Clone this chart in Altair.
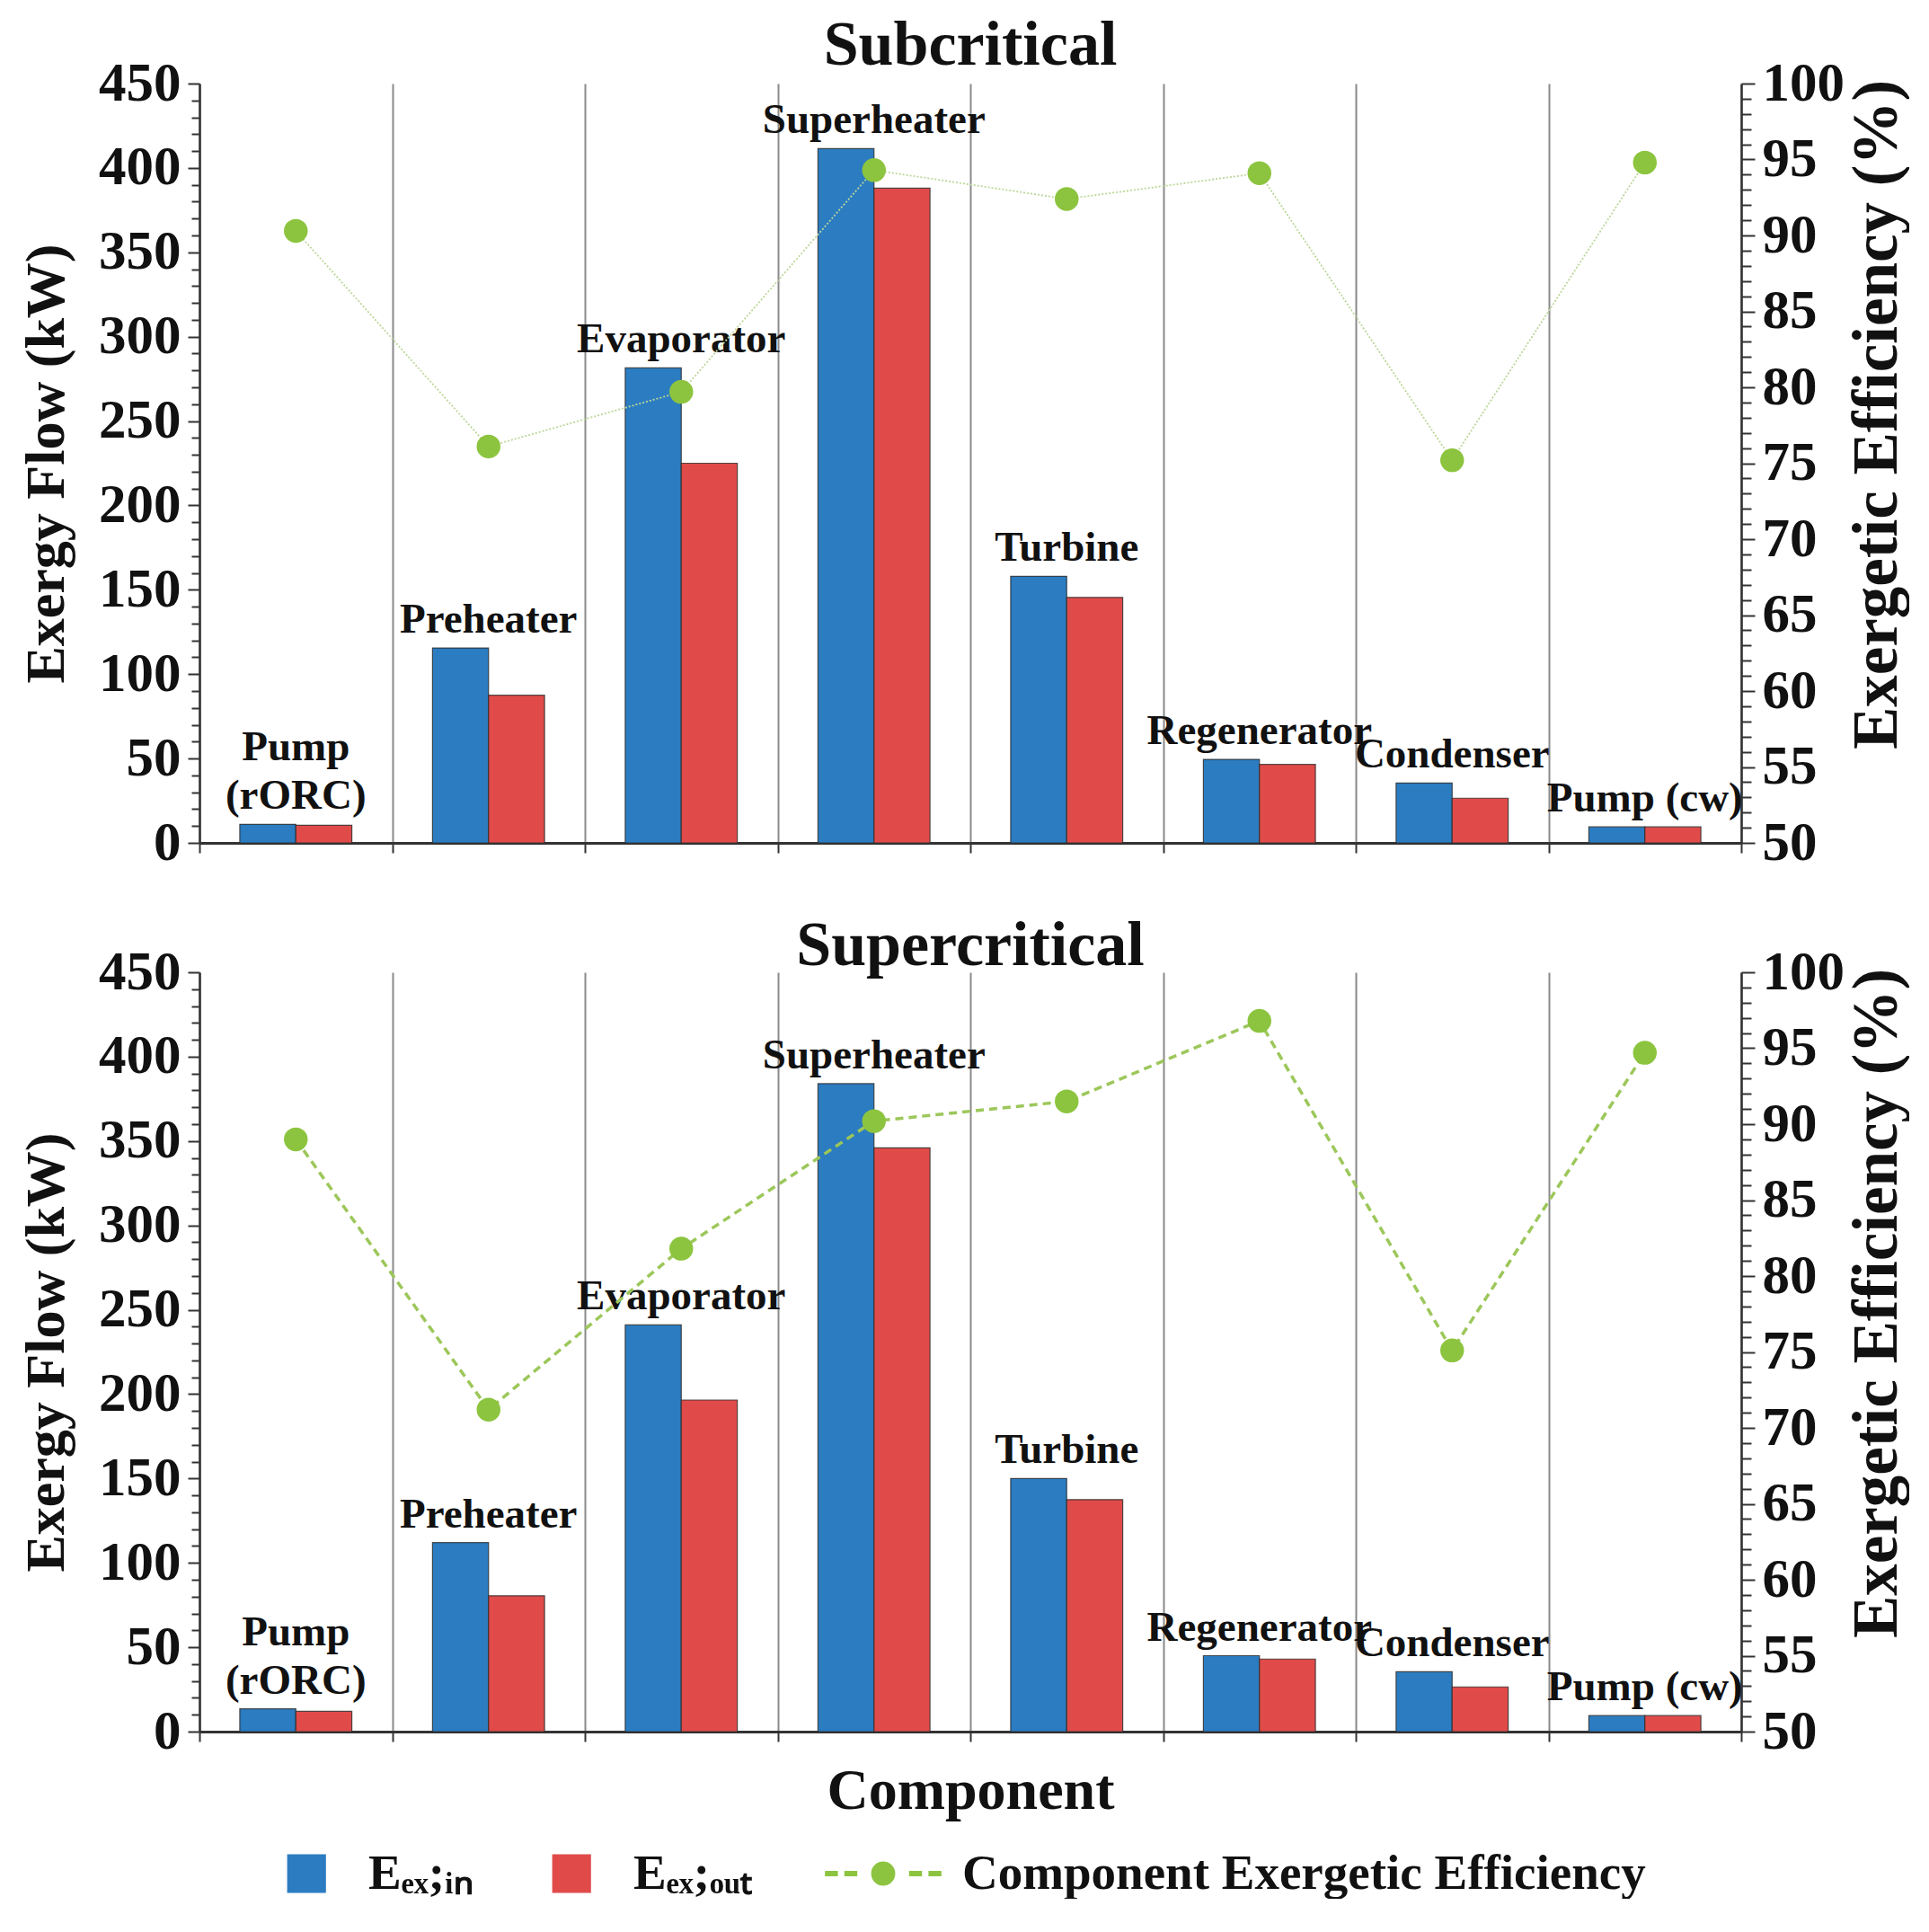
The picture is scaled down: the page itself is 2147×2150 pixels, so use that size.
"""Exergy flow per component, subcritical vs supercritical (bars + efficiency line)."""

import altair as alt
import pandas as pd

COMPONENTS = [
    "Pump (rORC)", "Preheater", "Evaporator", "Superheater",
    "Turbine", "Regenerator", "Condenser", "Pump (cw)",
]
# two-line labels: upper line (mostly empty) and the line sitting on the bars
LABEL_UPPER = ["Pump", "", "", "", "", "", "", ""]
LABEL_LOWER = [
    "(rORC)", "Preheater", "Evaporator", "Superheater",
    "Turbine", "Regenerator", "Condenser", "Pump (cw)",
]

# subcritical
SUB_EX_IN = [11, 115.5, 281.5, 411.5, 158, 49.5, 35.5, 9.5]
SUB_EX_OUT = [10.5, 87.5, 225, 388, 145.5, 46.5, 26.5, 9.5]
SUB_EFF = [90.3, 76.1, 79.7, 94.3, 92.4, 94.1, 75.2, 94.8]

# supercritical
SUP_EX_IN = [13.5, 112, 241, 384, 150, 45, 35.5, 9.5]
SUP_EX_OUT = [12, 80.5, 196.5, 346, 137.5, 43, 26.5, 9.5]
SUP_EFF = [89.0, 71.2, 81.8, 90.2, 91.5, 96.8, 75.1, 94.7]

# en/thin space closed by a zero-width char (so it is not trimmed) widens that legend entry
SERIES = [
    "E\u2091\u2093;\u1d62\u2099",
    "E\u2091\u2093;\u2092\u1d64\u209c\u2002\u2009\u200b",
    "Component Exergetic Efficiency",
]
COLORS = ["#2B7CC1", "#E04B4A", "#8CC43F"]

Y_LEFT_TICKS = list(range(0, 451, 10))
Y_RIGHT_TICKS = list(range(50, 101, 1))

FONT = "Liberation Serif"
GREEN = "#8CC43F"

# legend symbols: squares set towards the label, dashed line with a dot for efficiency
SQUARE = "M-0.05,-0.45H0.85V0.45H-0.05Z"
LINE_DOT = (
    "M-1.35,-0.06H-1.05V0.06H-1.35Z M-0.9,-0.06H-0.6V0.06H-0.9Z "
    "M0.6,-0.06H0.9V0.06H0.6Z M1.05,-0.06H1.35V0.06H1.05Z "
    "M0.28,0A0.28,0.28 0 1,1 -0.28,0A0.28,0.28 0 1,1 0.28,0Z"
)

LEGEND = alt.Legend(
    orient="none",
    legendX=52,
    legendY=1944,
    direction="horizontal",
    columns=3,
    title=None,
    labelFont=FONT,
    labelFontWeight="bold",
    labelFontSize=55,
    labelColor="#111",
    labelLimit=1000,
    labelOffset=40,
    columnPadding=42,
    symbolSize=9216,
    symbolStrokeWidth=0,
    padding=0,
)

color_scale = alt.Scale(domain=SERIES, range=COLORS)
shape_scale = alt.Scale(domain=SERIES, range=[SQUARE, SQUARE, LINE_DOT])


def make_panel(ex_in, ex_out, eff, title, title_offset, x_title, dashed, with_legend):
    df_bars = pd.DataFrame({
        "component": COMPONENTS * 2,
        "series": [SERIES[0]] * len(COMPONENTS) + [SERIES[1]] * len(COMPONENTS),
        "value": ex_in + ex_out,
    })
    df_labels = pd.DataFrame({
        "component": COMPONENTS,
        "upper": LABEL_UPPER,
        "lower": LABEL_LOWER,
        "value": [max(a, b) for a, b in zip(ex_in, ex_out)],
    })
    df_eff = pd.DataFrame({"component": COMPONENTS, "eff": eff})

    x_enc = alt.X(
        "component:N",
        sort=COMPONENTS,
        scale=alt.Scale(paddingInner=0, paddingOuter=0),
        axis=alt.Axis(
            labels=False,
            title=x_title,
            titlePadding=22,
            titleFontSize=64,
            tickBand="extent",
            tickSize=11,
            grid=True,
            gridColor="#8a8a8a",
            gridWidth=2,
            domainWidth=3,
        ),
    )
    y_left = alt.Y(
        "value:Q",
        scale=alt.Scale(domain=[0, 450], nice=False),
        axis=alt.Axis(
            orient="left",
            title="Exergy Flow (kW)",
            values=Y_LEFT_TICKS,
            labelExpr="datum.value % 50 === 0 ? datum.label : ''",
            tickSize={"condition": {"test": "datum.value % 50 === 0", "value": 13}, "value": 9},
            labelOverlap=False,
            labelPadding=8,
            titlePadding=26,
            grid=False,
        ),
    )
    y_right = alt.Y(
        "eff:Q",
        scale=alt.Scale(domain=[50, 100], nice=False),
        axis=alt.Axis(
            orient="right",
            title="Exergetic Efficiency (%)",
            titleAngle=270,
            titleBaseline="top",
            titleFontSize=71,
            titleY=368,
            values=Y_RIGHT_TICKS,
            labelExpr="datum.value % 5 === 0 ? datum.label : ''",
            tickSize={"condition": {"test": "datum.value % 5 === 0", "value": 15}, "value": 11},
            labelOverlap=False,
            labelPadding=8,
            titlePadding=2,
            grid=False,
        ),
    )

    bars = alt.Chart(df_bars).mark_bar(stroke="#2a2a2a", strokeWidth=1.2, strokeOpacity=0.8).encode(
        x=x_enc,
        xOffset=alt.XOffset("series:N", sort=SERIES[:2], scale=alt.Scale(paddingInner=0, paddingOuter=0.72)),
        y=y_left,
        color=alt.Color("series:N", scale=color_scale, legend=LEGEND),
    )
    text_style = dict(font=FONT, fontSize=47, fontWeight="bold", baseline="alphabetic", color="#111")
    labels_lower = alt.Chart(df_labels).mark_text(dy=-17, **text_style).encode(
        x=x_enc, y=y_left, text="lower:N"
    )
    labels_upper = alt.Chart(df_labels).mark_text(dy=-71, **text_style).encode(
        x=x_enc, y=y_left, text="upper:N"
    )

    if dashed:
        line = alt.Chart(df_eff).mark_line(color="#9CC75A", strokeWidth=3.5, strokeDash=[9, 6])
    else:
        line = alt.Chart(df_eff).mark_line(color="#BCD79A", strokeWidth=1.8, strokeDash=[2, 2])
    line = line.encode(x=x_enc, y=y_right)
    points = alt.Chart(df_eff).mark_point(filled=True, size=700, color=GREEN, opacity=1).encode(
        x=x_enc, y=y_right
    )

    right_layers = [line, points]
    if with_legend:
        # legend-only layer: no valid values, so only the merged legend comes out of it
        df_legend = pd.DataFrame({"series": SERIES, "eff": [None] * len(SERIES)})
        right_layers.append(
            alt.Chart(df_legend).mark_point(filled=True, opacity=1).encode(
                y=y_right,
                color=alt.Color("series:N", scale=color_scale, legend=LEGEND),
                shape=alt.Shape("series:N", scale=shape_scale, legend=LEGEND),
            )
        )

    return (
        alt.layer(alt.layer(bars, labels_lower, labels_upper), alt.layer(*right_layers))
        .resolve_scale(y="independent")
        .properties(
            width=1716,
            height=845,
            title=alt.TitleParams(title, offset=title_offset),
        )
    )


top = make_panel(SUB_EX_IN, SUB_EX_OUT, SUB_EFF, "Subcritical", -31, None, False, False)
bottom = make_panel(SUP_EX_IN, SUP_EX_OUT, SUP_EFF, "Supercritical", -38, "Component", True, True)

chart = (
    alt.vconcat(top, bottom, spacing=50)
    .configure(padding={"left": 12, "top": 8, "right": 0, "bottom": 0})
    .configure_view(strokeWidth=0)
    .configure_axis(
        labelFont=FONT,
        labelFontWeight="bold",
        labelFontSize=61,
        labelColor="#111",
        titleFont=FONT,
        titleFontWeight="bold",
        titleFontSize=62,
        titleColor="#111",
        domainColor="#333",
        domainWidth=2.5,
        tickColor="#333",
        tickWidth=2,
    )
    .configure_title(font=FONT, fontSize=70, fontWeight="bold", color="#111", anchor="middle")
)

chart.save("out.html", embed_options={"renderer": "svg", "actions": False})
